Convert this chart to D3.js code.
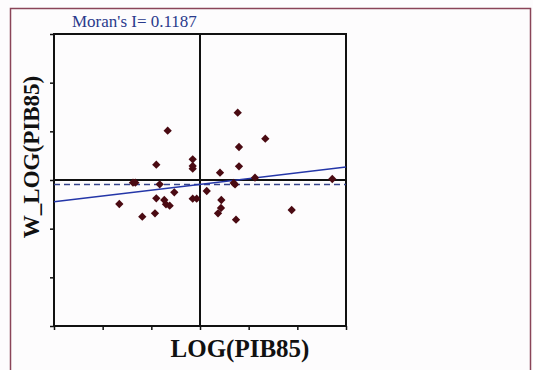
<!DOCTYPE html>
<html>
<head>
<meta charset="utf-8">
<script src="https://cdn.jsdelivr.net/npm/d3@7"></script>
<style>
  html, body { margin: 0; padding: 0; background: #fdfcfd; }
  #chart { width: 533px; height: 370px; }
  text { font-family: 'Liberation Serif', 'Times New Roman', serif; }
</style>
</head>
<body>
<div id="chart"></div>
<script>
// Moran scatter: standardized LOG(PIB85) vs spatial lag
const xValues = [0.775, -0.664, 1.342, 0.801, -0.898, -0.15, -0.15, -0.15, 0.801, 0.411,
                 1.13, 2.718, -1.377, -1.329, -0.828, 0.692, 0.72, 0.138, -0.528, -1.658,
                 -0.898, -0.734, -0.699, -0.623, -0.15, -0.068, 0.438, 0.431, 0.37, 1.884,
                 -1.186, -0.925, 0.74];
const yValues = [1.383, 1.013, 0.849, 0.678, 0.314, 0.425, 0.232, 0.29, 0.281, 0.15,
                 0.047, 0.02, -0.055, -0.055, -0.088, -0.062, -0.09, -0.226, -0.253, -0.493,
                 -0.376, -0.411, -0.499, -0.528, -0.384, -0.384, -0.411, -0.575, -0.684, -0.616,
                 -0.754, -0.684, -0.816];
const axisTicks = [-3, -2, -1, 0, 1, 2, 3];
const moranI = 0.1187;
const lagMean = -0.09;

function createMoranChart() {
    const container = d3.select('#chart');
    container.selectAll('*').remove();

    const svg = container.append('svg')
        .attr('width', 533)
        .attr('height', 370);

    // outer frame
    svg.append('rect')
        .attr('x', 10.5)
        .attr('y', 8.5)
        .attr('width', 520)
        .attr('height', 380)
        .attr('fill', 'none')
        .attr('stroke', '#8a4458')
        .attr('stroke-width', 1.5);

    const box = { left: 54, top: 34, size: 292 };

    const xScale = d3.scaleLinear()
        .domain([-3, 3])
        .range([box.left, box.left + box.size]);

    const yScale = d3.scaleLinear()
        .domain([-3, 3])
        .range([box.top + box.size, box.top]);

    // Axes (ticks only, no labels)
    svg.append('g')
        .attr('transform', `translate(0, ${box.top + box.size})`)
        .call(d3.axisBottom(xScale).tickValues(axisTicks).tickSize(4).tickFormat(''))
        .call(g => g.select('.domain').remove())
        .call(g => g.selectAll('line').attr('stroke', '#111').attr('stroke-width', 1.5));

    svg.append('g')
        .attr('transform', `translate(${box.left}, 0)`)
        .call(d3.axisLeft(yScale).tickValues(axisTicks).tickSize(4).tickFormat(''))
        .call(g => g.select('.domain').remove())
        .call(g => g.selectAll('line').attr('stroke', '#111').attr('stroke-width', 1.5));

    svg.append('rect')
        .attr('x', box.left)
        .attr('y', box.top)
        .attr('width', box.size)
        .attr('height', box.size)
        .attr('fill', 'none')
        .attr('stroke', '#111')
        .attr('stroke-width', 2);

    // quadrant lines
    svg.append('line')
        .attr('x1', xScale(0)).attr('x2', xScale(0))
        .attr('y1', yScale(3)).attr('y2', yScale(-3))
        .attr('stroke', '#111')
        .attr('stroke-width', 2);

    svg.append('line')
        .attr('x1', xScale(-3)).attr('x2', xScale(3))
        .attr('y1', yScale(0)).attr('y2', yScale(0))
        .attr('stroke', '#111')
        .attr('stroke-width', 2);

    // mean of lag (dashed)
    svg.append('line')
        .attr('x1', xScale(-3)).attr('x2', xScale(3))
        .attr('y1', yScale(lagMean)).attr('y2', yScale(lagMean))
        .attr('stroke', '#34428a')
        .attr('stroke-width', 1.5)
        .attr('stroke-dasharray', '6,4');

    // regression line, slope = Moran's I
    svg.append('line')
        .attr('x1', xScale(-3)).attr('x2', xScale(3))
        .attr('y1', yScale(lagMean - 3 * moranI))
        .attr('y2', yScale(lagMean + 3 * moranI))
        .attr('stroke', '#2436a8')
        .attr('stroke-width', 1.5);

    // points
    const diamond = d3.symbol().type(d3.symbolDiamond2).size(44);
    svg.selectAll('.pt')
        .data(xValues.map((x, i) => ({ x, y: yValues[i] })))
        .enter()
        .append('path')
        .attr('class', 'pt')
        .attr('d', diamond)
        .attr('transform', d => `translate(${xScale(d.x)}, ${yScale(d.y)})`)
        .attr('fill', '#4a0a12');

    // texts
    svg.append('text')
        .attr('x', 72)
        .attr('y', 27)
        .attr('font-size', 17)
        .attr('fill', '#2a3a8c')
        .text(`Moran's I= ${moranI}`);

    svg.append('text')
        .attr('transform', 'rotate(-90)')
        .attr('x', -157)
        .attr('y', 39)
        .attr('text-anchor', 'middle')
        .attr('font-weight', 'bold')
        .attr('font-size', 23)
        .attr('fill', '#111')
        .text('W_LOG(PIB85)');

    svg.append('text')
        .attr('x', 240)
        .attr('y', 357)
        .attr('text-anchor', 'middle')
        .attr('font-weight', 'bold')
        .attr('font-size', 25)
        .attr('fill', '#111')
        .text('LOG(PIB85)');
}

createMoranChart();
</script>
</body>
</html>
